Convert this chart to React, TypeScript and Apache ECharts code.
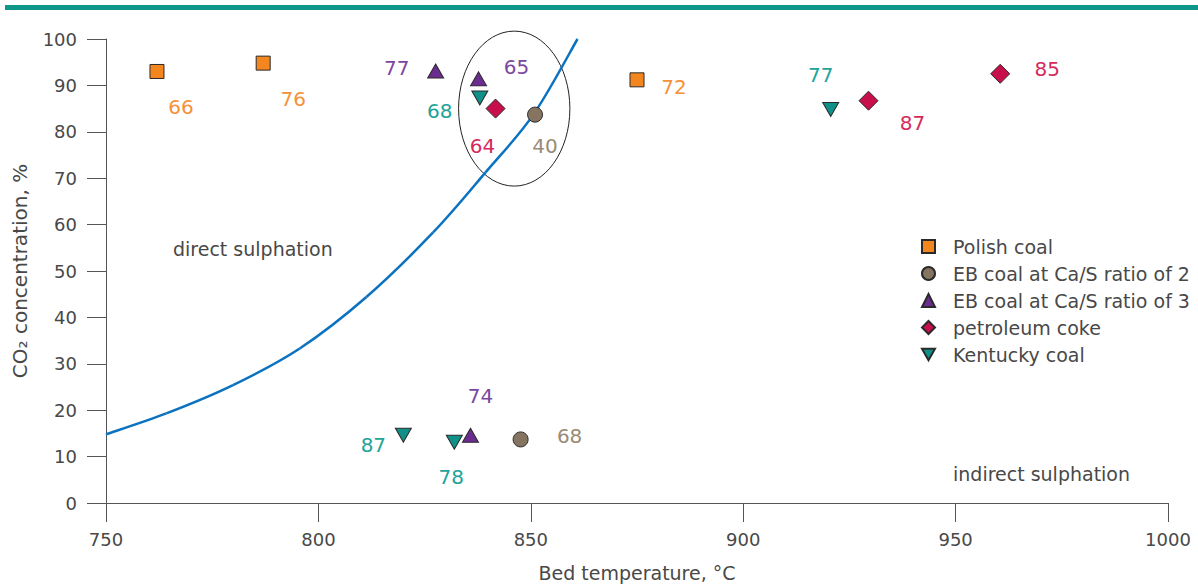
import React, { useEffect, useRef } from "react";
import * as echarts from "echarts";

// Bed temperature (°C), CO2 concentration (%), sulphur capture label
const polishCoal = [
  [762, 93, 66],
  [787, 94.8, 76],
  [875, 91.2, 72],
];
const ebCoalCaS2 = [
  [851, 83.7, 40],
  [847.6, 13.7, 68],
];
const ebCoalCaS3 = [
  [827.6, 93.1, 77],
  [837.7, 91.4, 65],
  [835.8, 14.6, 74],
];
const petroleumCoke = [
  [841.7, 85, 64],
  [929.5, 86.7, 87],
  [960.5, 92.5, 85],
];
const kentuckyCoal = [
  [838, 87.3, 68],
  [920.6, 84.8, 77],
  [820, 14.6, 87],
  [832, 13.1, 78],
];

// Boundary between direct and indirect sulphation
const boundaryCurve = [
  [750, 14.8],
  [764.2, 19.3],
  [779.9, 25.4],
  [795.6, 33.3],
  [811.3, 44.4],
  [827, 58.3],
  [839.3, 71.2],
  [850.6, 83.7],
  [861, 100],
];

// Highlighted cluster: centre x, centre y, radius x, radius y (data units)
const clusterEllipse = [[846.1, 85, 13.1, 16.7]];

const xTicks = { min: 750, max: 1000, interval: 50 };
const yTicks = { min: 0, max: 100, interval: 10 };

// Label offsets from each marker, in pixels
const polishOffsets = [[24, 36], [30, 36], [37, 7]];
const eb2Offsets = [[10, 31], [49, -3]];
const eb3Offsets = [[-39, -3], [38, -12], [10, -39]];
const cokeOffsets = [[-13, 37], [44, 22], [47, -5]];
const kentuckyOffsets = [[-40, 13], [-10, -35], [-30, 10], [-3, 35]];

const FONT = "'DejaVu Sans', sans-serif";
const TEXT = "#484848";

function points(data: number[][], offsets: number[][]) {
  return data.map((d, i) => ({
    value: [d[0], d[1], d[2]],
    label: { offset: offsets[i] },
  }));
}

function scatter(
  name: string,
  data: number[][],
  offsets: number[][],
  symbol: string,
  size: number | number[],
  fill: string,
  labelColor: string
) {
  return {
    type: "scatter",
    name,
    data: points(data, offsets),
    symbol,
    symbolSize: size,
    z: 5,
    itemStyle: { color: fill, borderColor: "#2a2a2a", borderWidth: 1, opacity: 1 },
    label: {
      show: true,
      position: "inside",
      formatter: (p: any) => String(p.value[2]),
      color: labelColor,
      fontSize: 20,
      fontFamily: FONT,
    },
    emphasis: { disabled: true },
  };
}

// Catmull-Rom segment from point i to point i+1 of the boundary curve
function renderBoundarySegment(params: any, api: any) {
  const n = boundaryCurve.length;
  const i = params.dataIndex;
  if (i >= n - 1) return null;
  const pt = (k: number) => api.coord(boundaryCurve[Math.max(0, Math.min(n - 1, k))]);
  const p0 = pt(i - 1);
  const p1 = pt(i);
  const p2 = pt(i + 1);
  const p3 = pt(i + 2);
  return {
    type: "bezierCurve",
    shape: {
      x1: p1[0],
      y1: p1[1],
      cpx1: p1[0] + (p2[0] - p0[0]) / 6,
      cpy1: p1[1] + (p2[1] - p0[1]) / 6,
      cpx2: p2[0] - (p3[0] - p1[0]) / 6,
      cpy2: p2[1] - (p3[1] - p1[1]) / 6,
      x2: p2[0],
      y2: p2[1],
    },
    style: { stroke: "#0a72c0", lineWidth: 2.5, fill: "none" },
  };
}

export default function App() {
  const ref = useRef<HTMLDivElement>(null);

  useEffect(() => {
    if (!ref.current) return;
    const chart = echarts.init(ref.current, undefined, { renderer: "svg" });
    chart.setOption({
      animation: false,
      backgroundColor: "#ffffff",
      textStyle: { fontFamily: FONT },
      grid: { left: 106, right: 30, top: 39, bottom: 82 },
      xAxis: {
        type: "value",
        ...xTicks,
        name: "Bed temperature, °C",
        nameLocation: "middle",
        nameGap: 60,
        nameTextStyle: { fontSize: 19, color: TEXT, fontFamily: FONT },
        axisLine: { lineStyle: { color: "#555", width: 1 } },
        axisTick: { show: true, inside: false, length: 19, lineStyle: { color: "#555" } },
        axisLabel: {
          fontSize: 18,
          color: TEXT,
          margin: 27,
          fontFamily: FONT,
          formatter: (v: number) => String(v),
        },
        splitLine: { show: false },
      },
      yAxis: {
        type: "value",
        ...yTicks,
        name: "CO₂ concentration, %",
        nameLocation: "middle",
        nameGap: 76,
        nameTextStyle: { fontSize: 20, color: TEXT, fontFamily: FONT },
        axisLine: { show: true, lineStyle: { color: "#555", width: 1 } },
        axisTick: { show: true, inside: false, length: 19, lineStyle: { color: "#555" } },
        axisLabel: {
          fontSize: 18,
          color: TEXT,
          margin: 29,
          fontFamily: FONT,
          formatter: (v: number) => String(v),
        },
        splitLine: { show: false },
      },
      legend: {
        orient: "vertical",
        left: 916,
        top: 232,
        itemWidth: 13,
        itemHeight: 13,
        itemGap: 8,
        textStyle: { fontSize: 19, color: TEXT, fontFamily: FONT, padding: [0, 0, 0, 13] },
        data: [
          "Polish coal",
          "EB coal at Ca/S ratio of 2",
          "EB coal at Ca/S ratio of 3",
          "petroleum coke",
          "Kentucky coal",
        ],
      },
      graphic: [
        {
          type: "rect",
          shape: { x: 5, y: 5, width: 1193, height: 5 },
          style: { fill: "#0e9688" },
        },
        {
          type: "text",
          left: 173,
          top: 239,
          style: { text: "direct sulphation", fontSize: 19, fill: TEXT, fontFamily: FONT },
        },
        {
          type: "text",
          left: 953,
          top: 464,
          style: { text: "indirect sulphation", fontSize: 19, fill: TEXT, fontFamily: FONT },
        },
      ],
      series: [
        {
          type: "custom",
          name: "boundary",
          data: boundaryCurve,
          renderItem: renderBoundarySegment,
          z: 2,
          silent: true,
        },
        {
          type: "custom",
          name: "cluster",
          data: clusterEllipse,
          z: 1,
          silent: true,
          renderItem: (_params: any, api: any) => {
            const c = api.coord([api.value(0), api.value(1)]);
            const s = api.size([api.value(2), api.value(3)]);
            return {
              type: "ellipse",
              shape: { cx: c[0], cy: c[1], rx: s[0], ry: s[1] },
              style: { fill: "none", stroke: "#222", lineWidth: 1 },
            };
          },
        },
        scatter("Polish coal", polishCoal, polishOffsets, "rect", 14, "#f4861f", "#f5913a"),
        scatter("EB coal at Ca/S ratio of 2", ebCoalCaS2, eb2Offsets, "circle", 15, "#857560", "#9a8a76"),
        scatter("EB coal at Ca/S ratio of 3", ebCoalCaS3, eb3Offsets, "triangle", [16, 14], "#6a2c8e", "#7c47a0"),
        scatter("petroleum coke", petroleumCoke, cokeOffsets, "diamond", [19, 19], "#c70f4b", "#d52a5c"),
        scatter(
          "Kentucky coal",
          kentuckyCoal,
          kentuckyOffsets,
          "path://M0,0 L16,0 L8,14 Z",
          [16, 14],
          "#0f9088",
          "#22a39a"
        ),
      ],
    });
    return () => chart.dispose();
  }, []);

  return (
    <div
      ref={ref}
      style={{ position: "fixed", left: 0, top: 0, width: 1198, height: 587, background: "#fff" }}
    />
  );
}
